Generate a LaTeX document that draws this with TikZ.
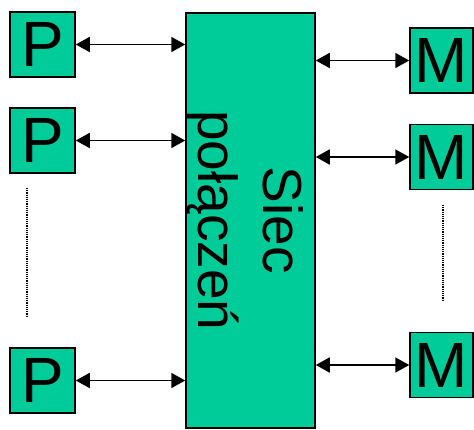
\documentclass[tikz,border=0pt]{standalone}
\usepackage{fontspec}
\setmainfont{Liberation Sans}
\usetikzlibrary{arrows.meta,positioning}
\definecolor{netgreen}{HTML}{00CC99}

\begin{document}
\begin{tikzpicture}[
          x=1pt, y=1pt,
          unitbox/.style={draw, line width=1.5pt, fill=netgreen, minimum width=65pt,
                          minimum height=65pt, inner sep=0pt, font=\fontsize{64}{64}\selectfont},
          netbox/.style={draw, line width=1.5pt, fill=netgreen, minimum width=129pt,
                         minimum height=415pt, inner sep=0pt},
          link/.style={line width=1.8pt, {Triangle[length=14pt,width=15pt]}-{Triangle[length=14pt,width=15pt]}},
          gap/.style={line width=1.6pt, dash pattern=on 1.2pt off 1pt}
      ]
        \useasboundingbox (0,0) rectangle (474,429);

        % interconnection network in the middle
        \node[netbox] (siec) at (250.5,208.6) {};
        \node[rotate=-90, align=center, inner sep=0pt, font=\fontsize{55}{65}\selectfont]
          (siecTxt) at ([xshift=-5.5pt]siec.center) {Siec\\połączeń};

        % processors on the left
        \foreach \i/\y in {1/384.5,2/288.5,3/48.5} {
          \node[unitbox] (p\i) at (42.5,\y) {P};
          \draw[link] (p\i) -- (p\i -| siec.west);
        }

        % memory modules on the right
        \foreach \i/\y in {1/368.5,2/272,3/64} {
          \node[unitbox, minimum width=63pt] (m\i) at (441.5,\y) {M};
          \draw[link] (m\i) -- (m\i -| siec.east);
        }

        % the elided units
        \coordinate (pTop) at (26.7,241);
        \coordinate (pBot) at (26.7,113);
        \coordinate (mTop) at (443,224);
        \coordinate (mBot) at (443,129);
        \draw[gap] (pTop) -- (pBot);
        \draw[gap] (mTop) -- (mBot);
      \end{tikzpicture}
\end{document}
